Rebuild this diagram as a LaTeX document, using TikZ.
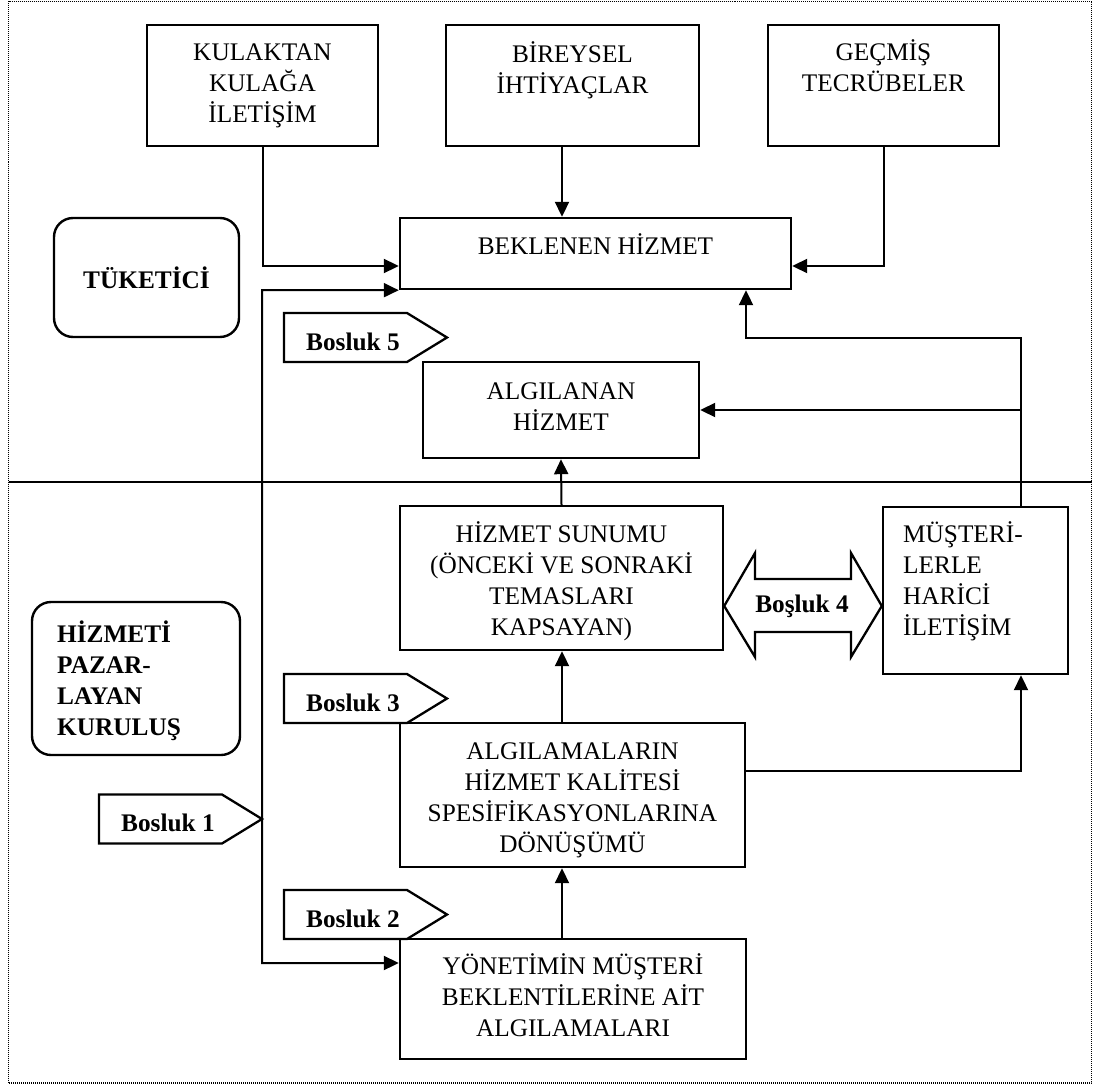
\documentclass[tikz,border=0pt]{standalone}
\usepackage{fontspec}
\setmainfont{Liberation Serif}
\usetikzlibrary{arrows.meta}
\newcommand\firstline{\rule{0pt}{22pt}}
\tikzset{
  box/.style={draw, line width=2.4pt, inner sep=0pt},
  rbox/.style={draw, line width=2.4pt, rounded corners=19pt, inner sep=0pt},
  txt/.style={inner sep=0pt, align=center, font=\fontsize{25.3}{31}\selectfont},
  ltxt/.style={inner sep=0pt, align=left, font=\fontsize{25.3}{31}\selectfont},
  btxt/.style={inner sep=0pt, align=left, font=\fontsize{25.3}{31}\selectfont\bfseries},
  conn/.style={line width=2pt},
  tagline/.style={line width=2.3pt, line join=miter},
  pics/gaptag/.style={code={
    \draw[tagline] (0,0) -- (123,0) -- (163,24.5) -- (123,49) -- (0,49) -- cycle;
    \node[btxt, anchor=base west] (-t) at (22,37) {#1};
  }},
  >={Triangle[length=15pt,width=14pt]}
}
\begin{document}
\begin{tikzpicture}[x=1pt, y=-1pt]
\useasboundingbox (0,0) rectangle (1094,1086);
% outer dotted frame and the consumer / provider divider
\draw[line width=1.3pt, dash pattern=on 1pt off 1pt] (8.5,1.5) rectangle (1091.5,1083);
\draw[line width=2pt] (8.5,482) -- (1091.5,482);

% consumer side
\node[box, minimum width=231pt, minimum height=121pt] (kul) at (262.5,85.5) {};
\node[txt, anchor=north] (kult) at (262.5,38) {\firstline KULAKTAN\\KULAĞA\\İLETİŞİM};
\node[box, minimum width=253pt, minimum height=121pt] (bir) at (572.5,85.5) {};
\node[txt, anchor=north] (birt) at (572.5,40) {\firstline BİREYSEL\\İHTİYAÇLAR};
\node[box, minimum width=231pt, minimum height=121pt] (gec) at (883.5,85.5) {};
\node[txt, anchor=north] (gect) at (883.5,38) {\firstline GEÇMİŞ\\TECRÜBELER};

\node[box, minimum width=391pt, minimum height=71pt] (bek) at (595.5,253.5) {};
\node[txt, anchor=north] (bekt) at (595.5,232) {\firstline BEKLENEN HİZMET};

\node[rbox, minimum width=185pt, minimum height=119pt, font=\fontsize{25.3}{31}\selectfont\bfseries] (tuk) at (146.5,277.5) {TÜKETİCİ};

\node[box, minimum width=276pt, minimum height=96pt] (alg) at (561,410) {};
\node[txt, anchor=north] (algt) at (561,377) {\firstline ALGILANAN\\HİZMET};

% provider side
\node[box, minimum width=323pt, minimum height=144pt] (hiz) at (561.5,578) {};
\node[txt, anchor=north] (hizt) at (561.5,520) {\firstline HİZMET SUNUMU\\(ÖNCEKİ VE SONRAKİ\\TEMASLARI\\KAPSAYAN)};

\node[box, minimum width=185pt, minimum height=167pt] (mus) at (975.5,590.5) {};
\node[ltxt, anchor=north west] (must) at (903,520) {\firstline MÜŞTERİ-\\LERLE\\HARİCİ\\İLETİŞİM};

\node[rbox, minimum width=208pt, minimum height=153pt] (kur) at (136,678.5) {};
\node[btxt, anchor=north west] (kurt) at (57,620) {\firstline HİZMETİ\\PAZAR-\\LAYAN\\KURULUŞ};

\node[box, minimum width=345pt, minimum height=144pt] (spec) at (572.5,795) {};
\node[txt, anchor=north] (spect) at (572.5,737) {\firstline ALGILAMALARIN\\HİZMET KALİTESİ\\SPESİFİKASYONLARINA\\DÖNÜŞÜMÜ};

\node[box, minimum width=346pt, minimum height=120pt] (yon) at (573,999) {};
\node[txt, anchor=north] (yont) at (573,952) {\firstline YÖNETİMİN MÜŞTERİ\\BEKLENTİLERİNE AİT\\ALGILAMALARI};

% gap tags
\pic (b5) at (284,313) {gaptag={Bosluk 5}};
\pic (b3) at (284,674) {gaptag={Bosluk 3}};
\pic (b1) at (99,794.5) {gaptag={Bosluk 1}};
\pic (b2) at (284,890) {gaptag={Bosluk 2}};

% gap 4 double arrow
\coordinate (g4l) at (hiz.east |- 0,606);
\coordinate (g4r) at (mus.west |- 0,606);
\draw[tagline] (g4l) -- (755,553) -- (755,579) -- (851,579) -- (851,553) -- (g4r)
  -- (851,657) -- (851,632) -- (755,632) -- (755,657) -- cycle;
\node[btxt, anchor=base] (b4t) at (802,612) {Boşluk 4};

% connectors
\draw[conn,->] (kul.south) |- (bek.west |- 0,266);
\draw[conn,->] (bir.south -| 562,0) -- (bek.north -| 562,0);
\draw[conn,->] (gec.south) |- (bek.east |- 0,266);
\draw[conn,<->] (yon.west |- 0,963) -| (262,290) -- (bek.south west);
\draw[conn,->] (mus.north -| 1021,0) |- (746,338) -- (bek.south -| 746,0);
\draw[conn,->] (alg.east -| 1021,0) -- (alg.east);
\draw[conn,->] (hiz.north) -- (alg.south);
\draw[conn,->] (spec.north -| 562,0) -- (hiz.south -| 562,0);
\draw[conn,->] (yon.north -| 562,0) -- (spec.south -| 562,0);
\draw[conn,->] (spec.east |- 0,771) -| (mus.south -| 1021,0);
\end{tikzpicture}
\end{document}
